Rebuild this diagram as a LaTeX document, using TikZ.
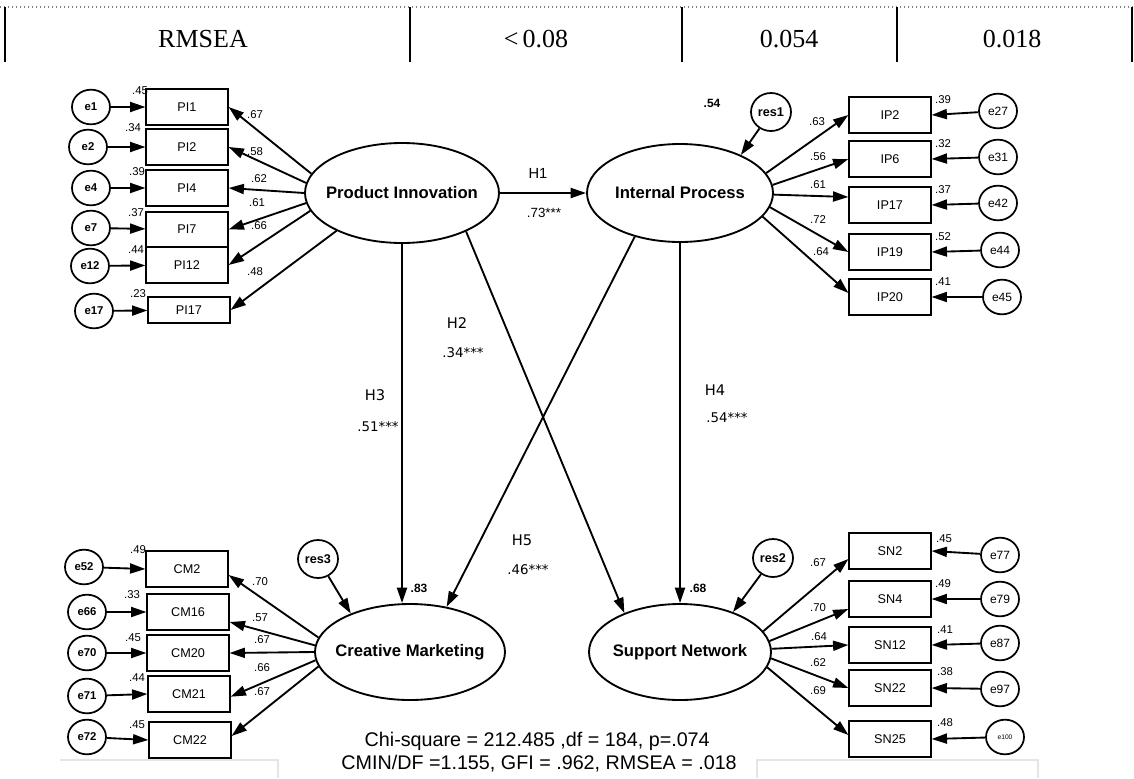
\documentclass[tikz,border=0pt]{standalone}
\usepackage{fontspec}
\setmainfont{Liberation Serif}
\newfontfamily\arial{Liberation Sans}
\newfontfamily\dejavu{DejaVu Sans}
\usetikzlibrary{arrows.meta,shapes.geometric}
\begin{document}
\begin{tikzpicture}[x=0.75pt,y=-0.75pt,
  arr/.style={-{Triangle[length=11.5pt,width=7.5pt]}, line width=1.4pt},
  ind/.style={draw, line width=1.4pt, minimum width=61pt, minimum height=26.5pt, inner sep=0pt, font=\arial\fontsize{9.5}{10}\selectfont},
  err/.style={draw, ellipse, line width=1.3pt, minimum width=28.5pt, minimum height=26pt, inner sep=0pt, font=\arial\bfseries\fontsize{8.5}{9}\selectfont},
  errr/.style={err, font=\arial\fontsize{9}{9}\selectfont},
  res/.style={draw, ellipse, line width=1.3pt, minimum width=30pt, minimum height=28.5pt, inner sep=0pt, font=\arial\bfseries\fontsize{9.5}{10}\selectfont},
  lat/.style={draw, ellipse, line width=1.4pt, inner sep=0pt},
  lattext/.style={font=\arial\bfseries\fontsize{12.5}{14}\selectfont},
  num/.style={font=\arial\fontsize{8.5}{9}\selectfont, inner sep=0pt},
  bnum/.style={font=\arial\bfseries\fontsize{9}{9}\selectfont, inner sep=0pt},
  hlab/.style={font=\dejavu\fontsize{11}{12}\selectfont, inner sep=0pt},
  hval/.style={font=\dejavu\fontsize{10}{12}\selectfont, inner sep=0pt},
  tab/.style={font=\fontsize{19.5}{21}\selectfont, inner sep=0pt, anchor=base},
  fit/.style={font=\arial\fontsize{14.8}{16}\selectfont, inner sep=0pt, anchor=east}
]
\useasboundingbox (0,0) rectangle (1134,778);
% ---------- table ----------
\draw[gray, dotted, line width=1pt] (0,7) -- (1134,7);
\foreach \xx in {5,410,682,897,1132} \draw[line width=1.2pt] (\xx,7) -- (\xx,62);
\node[tab] (t1) at (203,47.5) {RMSEA};
\node[tab] (t2) at (536,47.5) {<\,0.08};
\node[tab] (t3) at (789,47.5) {0.054};
\node[tab] (t4) at (1012,47.5) {0.018};
% faint frame lines
\draw[black!10, line width=0.8pt] (60,760) -- (278,760) -- (278,778);
\draw[black!10, line width=0.8pt] (757,778) -- (757,760) -- (1038,760) -- (1038,778);
% ---------- latent variables ----------
\node[lat, minimum width=145.5pt, minimum height=75pt, label={[lattext]center:Product Innovation}] (PI) at (402,193) {};
\node[lat, minimum width=139.5pt, minimum height=73.5pt, label={[lattext]center:Internal Process}] (IP) at (680,193) {};
\node[lat, minimum width=142.5pt, minimum height=72pt, label={[lattext]center:Creative Marketing}] (CM) at (410,652) {};
\node[lat, minimum width=136.5pt, minimum height=72pt, label={[lattext]center:Support Network}] (SN) at (680,652) {};
% ---------- Product Innovation indicators ----------
\node[ind] (PI1) at (187,107) {PI1};
\node[ind] (PI2) at (187,147) {PI2};
\node[ind] (PI4) at (187,188) {PI4};
\node[ind] (PI7) at (187,229.5) {PI7};
\node[ind] (PI12) at (187,265) {PI12};
\node[ind, minimum height=20pt] (PI17) at (189,310) {PI17};
\node[err] (e1) at (91,107) {e1};
\node[err] (e2) at (88,147) {e2};
\node[err] (e4) at (91,188) {e4};
\node[err] (e7) at (91,228) {e7};
\node[err] (e12) at (90,266) {e12};
\node[err] (e17) at (94,311) {e17};
\foreach \e/\b in {e1/PI1,e2/PI2,e4/PI4,e7/PI7,e12/PI12,e17/PI17} \draw[arr] (\e) -- (\b);
\draw[arr] (PI.168) -- (PI1.east);
\draw[arr] (PI.174) -- (PI2.east);
\draw[arr] (PI.180) -- (PI4.east);
\draw[arr] (PI.186) -- (PI7.east);
\draw[arr] (PI.191) -- (PI12.east);
\draw[arr] (PI.210) -- (PI17.east);
\node[num] (r1) at (140,91) {.45};
\node[num] (r2) at (133,128) {.34};
\node[num] (r4) at (137,172) {.39};
\node[num] (r7) at (136,213) {.37};
\node[num] (r12) at (136,250) {.44};
\node[num] (r17) at (138,294) {.23};
\node[num] (l1) at (255,115) {.67};
\node[num] (l2) at (255,152) {.58};
\node[num] (l4) at (259,179) {.62};
\node[num] (l7) at (257,203) {.61};
\node[num] (l12) at (259,226) {.66};
\node[num] (l17) at (255,272) {.48};
% ---------- Internal Process indicators ----------
\node[ind] (IP2) at (890,115) {IP2};
\node[ind] (IP6) at (890,159) {IP6};
\node[ind] (IP17) at (890,205) {IP17};
\node[ind] (IP19) at (890,252) {IP19};
\node[ind] (IP20) at (890,297) {IP20};
\node[errr] (e27) at (998,111) {e27};
\node[errr] (e31) at (998,157) {e31};
\node[errr] (e42) at (998,203) {e42};
\node[errr] (e44) at (1000,250) {e44};
\node[errr] (e45) at (1002,297) {e45};
\foreach \e/\b in {e27/IP2,e31/IP6,e42/IP17,e44/IP19,e45/IP20} \draw[arr] (\e) -- (\b.east);
\draw[arr] (IP.13) -- (IP2.west);
\draw[arr] (IP.5) -- (IP6.west);
\draw[arr] (IP.359) -- ([yshift=6pt]IP17.west);
\draw[arr] (IP.351) -- (IP19.west);
\draw[arr] (IP.344) -- ([yshift=3pt]IP20.west);
\node[res] (res1) at (771,112) {res1};
\draw[arr] (res1) -- (IP.32);
\node[bnum] (r_ip) at (712,103) {.54};
\node[num] (r27) at (943,100) {.39};
\node[num] (r31) at (943,144) {.32};
\node[num] (r42) at (943,190) {.37};
\node[num] (r44) at (943,237) {.52};
\node[num] (r45) at (943,282) {.41};
\node[num] (m2) at (817,122) {.63};
\node[num] (m6) at (818,157) {.56};
\node[num] (m17) at (818,185) {.61};
\node[num] (m19) at (818,220) {.72};
\node[num] (m20) at (821,252) {.64};
% ---------- Creative Marketing indicators ----------
\node[ind] (CM2) at (187,569) {CM2};
\node[ind] (CM16) at (188,612) {CM16};
\node[ind] (CM20) at (188,653) {CM20};
\node[ind] (CM21) at (189,694) {CM21};
\node[ind] (CM22) at (190,740) {CM22};
\node[err] (e52) at (84,567) {e52};
\node[err] (e66) at (87,612) {e66};
\node[err] (e70) at (87,653) {e70};
\node[err] (e71) at (87,696) {e71};
\node[err] (e72) at (87,737) {e72};
\foreach \e/\b in {e52/CM2,e66/CM16,e70/CM20,e71/CM21,e72/CM22} \draw[arr] (\e) -- (\b.west);
\draw[arr] (CM.171) -- ([yshift=-4.5pt]CM2.east);
\draw[arr] (CM.176) -- ([yshift=-7.5pt]CM16.east);
\draw[arr] (CM.180) -- (CM20.east);
\draw[arr] (CM.185) -- ([yshift=-2pt]CM21.east);
\draw[arr] (CM.189) -- ([yshift=3pt]CM22.east);
\node[res] (res3) at (318,559) {res3};
\draw[arr] (res3) -- (CM.147);
\node[bnum] (r_cm) at (419,588) {.83};
\node[num] (r52) at (138,550) {.49};
\node[num] (r66) at (132,595) {.33};
\node[num] (r70) at (133,638) {.45};
\node[num] (r71) at (137,678) {.44};
\node[num] (r72) at (137,725) {.45};
\node[num] (c2) at (260,582) {.70};
\node[num] (c16) at (260,618) {.57};
\node[num] (c20) at (262,640) {.67};
\node[num] (c21) at (262,668) {.66};
\node[num] (c22) at (262,692) {.67};
% ---------- Support Network indicators ----------
\node[ind] (SN2) at (890,551) {SN2};
\node[ind] (SN4) at (890,599) {SN4};
\node[ind] (SN12) at (890,645) {SN12};
\node[ind] (SN22) at (890,688) {SN22};
\node[ind] (SN25) at (890,739) {SN25};
\node[errr] (e77) at (1000,555) {e77};
\node[errr] (e79) at (1000,599) {e79};
\node[errr] (e87) at (1000,643) {e87};
\node[errr] (e97) at (1000,689) {e97};
\node[errr, font=\arial\fontsize{5}{6}\selectfont] (e100) at (1005,737) {e100};
\foreach \e/\b in {e77/SN2,e79/SN4,e87/SN12,e97/SN22,e100/SN25} \draw[arr] (\e) -- (\b.east);
\draw[arr] (SN.14) -- ([yshift=-6pt]SN2.west);
\draw[arr] (SN.7) -- ([yshift=-7.5pt]SN4.west);
\draw[arr] (SN.2) -- (SN12.west);
\draw[arr] (SN.356) -- (SN22.west);
\draw[arr] (SN.350) -- ([yshift=3pt]SN25.west);
\node[res] (res2) at (773,558) {res2};
\draw[arr] (res2) -- (SN.37);
\node[bnum] (r_sn) at (698,588) {.68};
\node[num] (r77) at (944,539) {.45};
\node[num] (r79) at (943,584) {.49};
\node[num] (r87) at (945,630) {.41};
\node[num] (r97) at (945,672) {.38};
\node[num] (r100) at (945,723) {.48};
\node[num] (s2) at (818,563) {.67};
\node[num] (s4) at (818,608) {.70};
\node[num] (s12) at (819,637) {.64};
\node[num] (s22) at (818,663) {.62};
\node[num] (s25) at (818,691) {.69};
% ---------- structural paths ----------
\draw[arr] (PI.east) -- (IP.west);
\node[font=\arial\fontsize{11}{12}\selectfont, inner sep=0pt] (h1) at (538,173) {H1};
\node[font=\arial\fontsize{10}{12}\selectfont, inner sep=0pt] (v1) at (544,213) {.73***};
\draw[arr] (PI.south) -- (PI.south |- CM.north);
\node[hlab] (h3) at (375,395) {H3};
\node[hval] (v3) at (378,427) {.51***};
\draw[arr] (IP.south) -- (IP.south |- SN.north);
\node[hlab] (h4) at (715,390) {H4};
\node[hval] (v4) at (727,418) {.54***};
\draw[arr] (PI.329) -- (SN.145);
\node[hlab] (h2) at (457,323) {H2};
\node[hval] (v2) at (463,353) {.34***};
\draw[arr] (IP.224) -- (CM.51);
\node[hlab] (h5) at (522,540) {H5};
\node[hval] (v5) at (528,570) {.46***};
% ---------- fit indices ----------
\node[fit] (f1) at (710,741) {Chi-square = 212.485 ,df = 184, p=.074};
\node[fit] (f2) at (737,764) {CMIN/DF =1.155, GFI = .962, RMSEA = .018};
\end{tikzpicture}
\end{document}
